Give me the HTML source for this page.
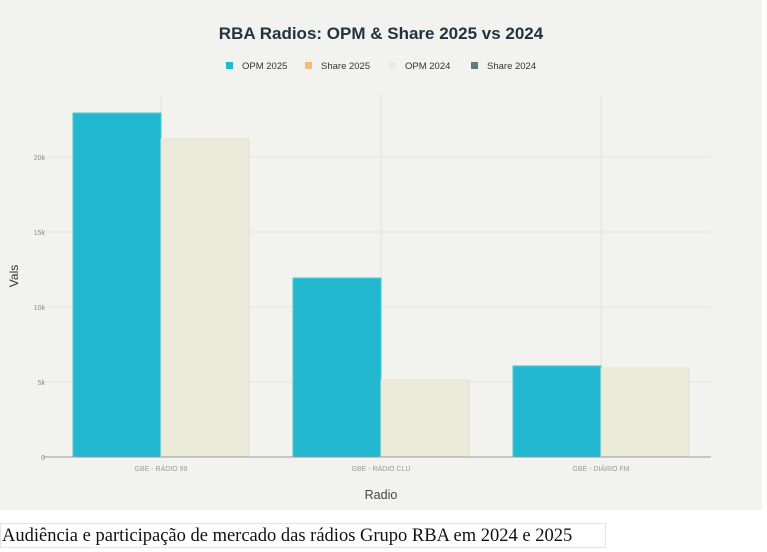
<!DOCTYPE html>
<html><head><meta charset="utf-8">
<style>
html,body{margin:0;padding:0;background:#fff;}
body{width:767px;height:552px;position:relative;overflow:hidden;font-family:"Liberation Sans",sans-serif;}
#chart{position:absolute;left:0;top:0;}
#caption{position:absolute;left:0;top:523px;height:25px;width:606px;border:1px solid #e4e4e4;font-family:"Liberation Serif",serif;font-size:18.5px;line-height:25px;color:#111;white-space:nowrap;padding-left:1px;box-sizing:border-box;}
</style></head>
<body>
<svg id="chart" width="767" height="510" xmlns="http://www.w3.org/2000/svg">
<rect x="0" y="0" width="762" height="510" fill="#f2f2ee"/>
<text x="381" y="39" text-anchor="middle" font-size="17" font-weight="bold" fill="#1f3340">RBA Radios: OPM &amp; Share 2025 vs 2024</text>
<g id="legend"></g>
<g id="grid"></g>
<g id="bars"></g>
<g id="axes"></g>
<text transform="translate(18,276) rotate(-90)" text-anchor="middle" font-size="12" fill="#333">Vals</text>
<text x="381" y="499" text-anchor="middle" font-size="12.5" fill="#444">Radio</text>
</svg>
<div id="caption">Audiência e participação de mercado das rádios Grupo RBA em 2024 e 2025</div>
<script>
const categories = ["GBE - RÁDIO 99", "GBE - RÁDIO CLU", "GBE - DIÁRIO FM"];
const opm2025 = [22930, 11930, 6070];
const share2025 = [0, 0, 0];
const opm2024 = [21200, 5130, 5930];
const share2024 = [0, 0, 0];
const yTicks = [0, 5000, 10000, 15000, 20000];
const yTickLabels = ["0", "5k", "10k", "15k", "20k"];
const seriesNames = ["OPM 2025", "Share 2025", "OPM 2024", "Share 2024"];

const NS = "http://www.w3.org/2000/svg";
const colors = ["#22b8cf", "#f5b97a", "#ecebd9", "#5e7b7f"];
const plotL = 51, plotR = 711, y0 = 457, pxPer = 75/5000, plotT = 95;
const band = (plotR - plotL) / categories.length;
const yS = v => y0 - v * pxPer;
const xC = i => plotL + band * (i + 0.5);
function mk(tag, attrs, parent){const e=document.createElementNS(NS,tag);for(const k in attrs)e.setAttribute(k,attrs[k]);parent.appendChild(e);return e;}
const gridG = document.getElementById('grid'), barsG = document.getElementById('bars'), axesG = document.getElementById('axes'), legendG = document.getElementById('legend');

yTicks.forEach((t,i)=>{
  if(t>0){const g=mk('line',{x1:plotL-8,x2:plotR,y1:yS(t),y2:yS(t),stroke:'#e3e3dd','stroke-width':1},gridG);
  
  }
  const tx=mk('text',{x:plotL-6,y:yS(t)+3,'text-anchor':'end','font-size':7,fill:'#888'},axesG);
  tx.textContent=yTickLabels[i];
  
  
});
categories.forEach((c,i)=>{
  const g=mk('line',{x1:xC(i),x2:xC(i),y1:plotT,y2:y0,stroke:'#e3e3dd','stroke-width':1},gridG);
  
  
});
const bw = 88;
const series = [opm2025, share2025, opm2024, share2024];
const offsets = [-bw, -bw, 0, 0];
categories.forEach((c,i)=>{
  series.forEach((s,si)=>{
    const v=s[i]; if(v<=0) return;
    const r=mk('rect',{x:xC(i)+offsets[si],y:yS(v),width:bw,height:y0-yS(v),fill:colors[si],stroke:si===0?'#4cc6d8':'#e2e1cf','stroke-width':1},barsG);
    
    
  });
  const tx=mk('text',{x:xC(i),y:y0+14,'text-anchor':'middle','font-size':7,fill:'#999'},axesG);
  tx.textContent=c;
  
  
});
const ax=mk('line',{x1:plotL-8,x2:plotR,y1:y0,y2:y0,stroke:'#999','stroke-width':1},axesG);



const lx=[226,305,389,471];
seriesNames.forEach((n,i)=>{
  const g=mk('g',{},legendG);
  
  
  mk('rect',{x:lx[i],y:62,width:7,height:7,fill:colors[i]},g);
  const t=mk('text',{x:lx[i]+16,y:69,'font-size':9.5,fill:'#333'},g);
  t.textContent=n;
});
</script>
</body></html>
